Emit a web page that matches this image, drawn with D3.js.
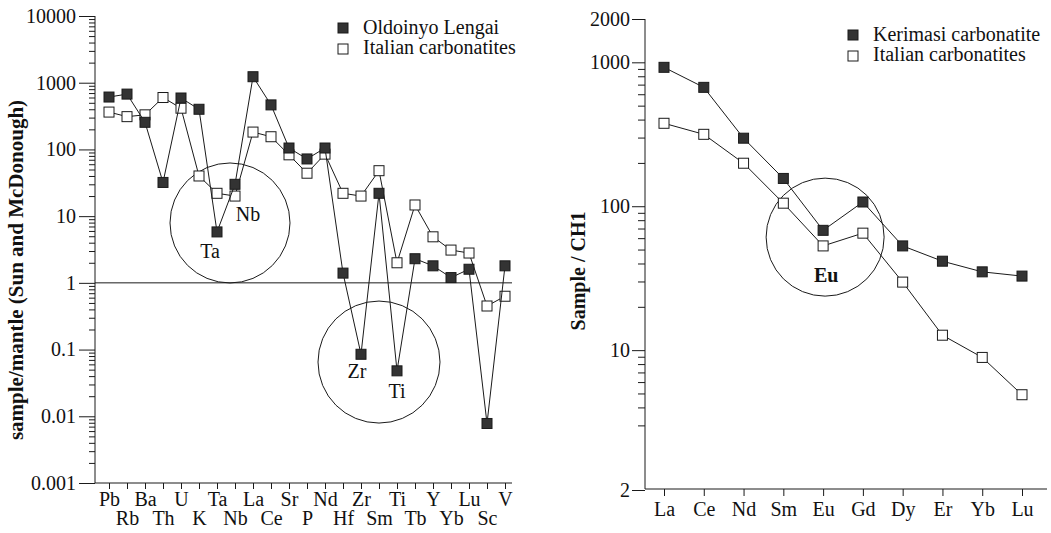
<!DOCTYPE html>
<html>
<head>
<meta charset="utf-8">
<script src="https://cdn.jsdelivr.net/npm/d3@7"></script>
<style>
  body { margin: 0; background: #fff; }
  svg text { font-family: "Liberation Serif", "Times New Roman", serif; fill: #111; }
</style>
</head>
<body>
<svg id="chart" width="1051" height="533"></svg>
<script>
// ---- left: mantle-normalised spider diagram
const spiderElements = ["Pb","Rb","Ba","Th","U","K","Ta","Nb","La","Ce","Sr","P","Nd","Hf","Zr","Sm","Ti","Tb","Y","Yb","Lu","Sc","V"];
const lengaiValues   = [610, 675, 255, 32, 590, 400, 5.8, 30, 1230, 465, 105, 72, 105, 1.4, 0.085, 22, 0.048, 2.3, 1.8, 1.2, 1.6, 0.0078, 1.8];
const italianSpider  = [363, 310, 330, 600, 415, 40, 22, 20, 182, 155, 83, 44, 85, 22, 20, 48, 2.0, 14.7, 4.9, 3.1, 2.8, 0.45, 0.63];
const spiderTicks      = [0.001, 0.01, 0.1, 1, 10, 100, 1000, 10000];
const spiderTickLabels = ["0.001", "0.01", "0.1", "1", "10", "100", "1000", "10000"];
const spiderLegend = ["Oldoinyo Lengai", "Italian carbonatites"];

// ---- right: chondrite-normalised REE
const reeElements    = ["La","Ce","Nd","Sm","Eu","Gd","Dy","Er","Yb","Lu"];
const kerimasiValues = [923, 670, 297, 156, 68, 107, 53, 41.5, 35, 32.7];
const italianRee     = [377, 316, 199, 105, 53, 65, 29.7, 12.7, 8.9, 4.9];
const reeFloor = 1.067;   // bottom of the printed axis (labelled "2" in the original)
const reeTicks      = [reeFloor, 10, 100, 1000, 2000];
const reeTickLabels = ["2", "10", "100", "1000", "2000"];
const reeLegend = ["Kerimasi carbonatite", "Italian carbonatites"];

const svg = d3.select("#chart");
const ink = "#1a1a1a";
const darkFill = "#333";
const sq = 10;

function minorTicks(lo, hi) {
    const out = [];
    for (let e = Math.floor(Math.log10(lo)); e < Math.ceil(Math.log10(hi)); e++) {
        for (let m = 2; m <= 9; m++) {
            const v = m * Math.pow(10, e);
            if (v > lo && v < hi) out.push(v);
        }
    }
    return out;
}

function styleAxis(g) {
    g.attr("font-family", null).attr("font-size", null);
    g.selectAll("line").attr("stroke", ink);
    g.selectAll("path.domain").remove();
    g.selectAll("text").attr("font-size", "20px").attr("fill", ink);
}

function drawSeries(g, x, y, cats, values, filled) {
    const pts = cats.map((c, i) => [x(c), y(values[i])]);
    g.append("path")
        .attr("d", d3.line()(pts))
        .attr("fill", "none")
        .attr("stroke", ink)
        .attr("stroke-width", 1);
    g.selectAll(null)
        .data(pts).enter()
        .append("rect")
        .attr("x", d => d[0] - sq / 2)
        .attr("y", d => d[1] - sq / 2)
        .attr("width", sq)
        .attr("height", sq)
        .attr("fill", filled ? darkFill : "#fff")
        .attr("stroke", ink)
        .attr("stroke-width", 1);
}

function drawLegend(g, x, y, labels) {
    labels.forEach((t, i) => {
        g.append("rect")
            .attr("x", x).attr("y", y + i * 21 - 11)
            .attr("width", sq).attr("height", sq)
            .attr("fill", i === 0 ? darkFill : "#fff")
            .attr("stroke", ink);
        g.append("text")
            .attr("x", x + 25).attr("y", y + i * 20)
            .attr("font-size", "20px")
            .text(t);
    });
}

// ================= left panel =================
const xL = d3.scalePoint().domain(spiderElements).range([109, 505]);
const yL = d3.scaleLog().domain([0.001, 10000]).range([483, 16]);
const left = svg.append("g");

left.append("g")
    .attr("transform", "translate(95,0)")
    .call(d3.axisLeft(yL).tickValues(minorTicks(0.001, 10000)).tickSize(6).tickFormat(""))
    .call(styleAxis);
left.append("g")
    .attr("transform", "translate(95,0)")
    .call(d3.axisLeft(yL).tickValues(spiderTicks).tickSize(16).tickPadding(3)
        .tickFormat((d, i) => spiderTickLabels[i]))
    .call(styleAxis);
left.append("g")
    .attr("transform", "translate(0,483)")
    .call(d3.axisBottom(xL).tickSize(6))
    .call(styleAxis)
    .call(g => g.selectAll("text").attr("dy", 0).attr("y", (d, i) => i % 2 ? 42 : 23));

left.append("line").attr("x1", 95).attr("x2", 95).attr("y1", 16).attr("y2", 483).attr("stroke", ink);
left.append("line").attr("x1", 95).attr("x2", 512).attr("y1", 483).attr("y2", 483).attr("stroke", ink);
// reference line at 1
left.append("line").attr("x1", 95).attr("x2", 512).attr("y1", yL(1)).attr("y2", yL(1)).attr("stroke", ink);

left.append("text")
    .attr("transform", "translate(23,270) rotate(-90)")
    .attr("text-anchor", "middle")
    .attr("font-size", "21px")
    .attr("font-weight", "bold")
    .text("sample/mantle (Sun and McDonough)");

// anomaly circles
left.append("circle").attr("cx", xL("Nb") - 5).attr("cy", yL(7.9)).attr("r", 60)
    .attr("fill", "none").attr("stroke", ink);
left.append("circle").attr("cx", xL("Sm")).attr("cy", yL(0.065)).attr("r", 61)
    .attr("fill", "none").attr("stroke", ink);

drawSeries(left, xL, yL, spiderElements, italianSpider, false);
drawSeries(left, xL, yL, spiderElements, lengaiValues, true);

const note = (g, txt, x, y, bold) => g.append("text")
    .attr("x", x).attr("y", y)
    .attr("text-anchor", "middle")
    .attr("font-size", "20px")
    .attr("font-weight", bold ? "bold" : null)
    .text(txt);
note(left, "Ta", xL("Ta") - 7, yL(lengaiValues[6]) + 26);
note(left, "Nb", xL("Nb") + 13, yL(lengaiValues[7]) + 37);
note(left, "Zr", xL("Zr") - 4, yL(lengaiValues[14]) + 24);
note(left, "Ti", xL("Ti"), yL(lengaiValues[16]) + 27);

drawLegend(left, 338, 34, spiderLegend);

// ================= right panel =================
const xR = d3.scalePoint().domain(reeElements).range([664, 1022]);
const yR = d3.scaleLog().domain([reeFloor, 2000]).range([490, 19]);
const right = svg.append("g");

right.append("g")
    .attr("transform", "translate(645,0)")
    .call(d3.axisLeft(yR).tickValues(minorTicks(2.5, 1000)).tickSize(7).tickFormat(""))
    .call(styleAxis);
right.append("g")
    .attr("transform", "translate(645,0)")
    .call(d3.axisLeft(yR).tickValues(reeTicks).tickSize(13).tickPadding(2)
        .tickFormat((d, i) => reeTickLabels[i]))
    .call(styleAxis);
right.append("g")
    .attr("transform", "translate(0,489)")
    .call(d3.axisBottom(xR).tickSize(7))
    .call(styleAxis)
    .call(g => g.selectAll("text").attr("dy", 0).attr("y", 27));

right.append("line").attr("x1", 645).attr("x2", 645).attr("y1", 19).attr("y2", 489).attr("stroke", ink);
right.append("line").attr("x1", 645).attr("x2", 1047).attr("y1", 489).attr("y2", 489).attr("stroke", ink);

right.append("text")
    .attr("transform", "translate(585,271) rotate(-90)")
    .attr("text-anchor", "middle")
    .attr("font-size", "20px")
    .attr("font-weight", "bold")
    .text("Sample / CH1");

right.append("circle").attr("cx", xR("Eu") + 2).attr("cy", yR(61)).attr("r", 59)
    .attr("fill", "none").attr("stroke", ink);

drawSeries(right, xR, yR, reeElements, italianRee, false);
drawSeries(right, xR, yR, reeElements, kerimasiValues, true);

note(right, "Eu", xR("Eu") + 3, yR(kerimasiValues[4]) + 52, true);

drawLegend(right, 848, 41, reeLegend);
</script>
</body>
</html>
